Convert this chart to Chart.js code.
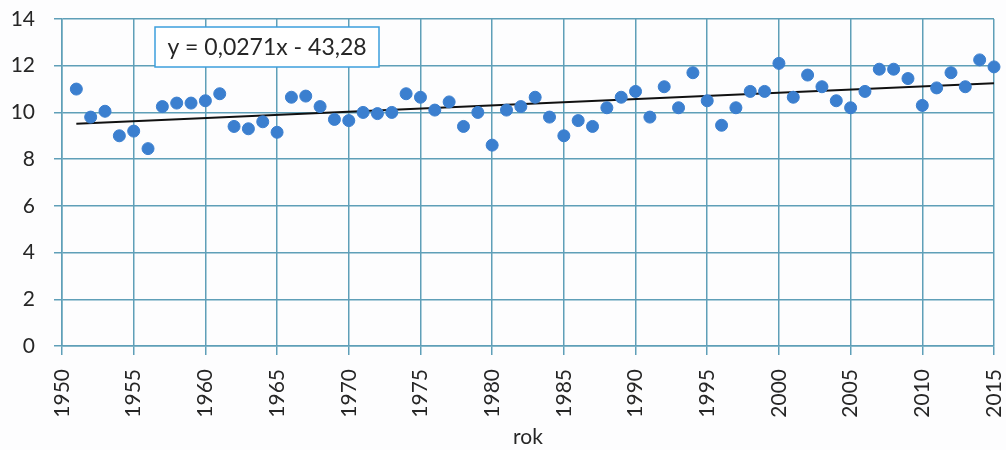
<!DOCTYPE html>
<html lang="pl">
<head>
  <meta charset="UTF-8">
  <title>Temperatura - trend</title>
  <script src="https://cdn.jsdelivr.net/npm/chart.js"></script>
  <style>
    body, html {
      margin: 0;
      padding: 0;
      background: #fdfdfe;
    }
    .wrap {
      width: 1006px;
      height: 450px;
    }
  </style>
</head>
<body>
  <div class="wrap"><canvas id="chart"></canvas></div>

  <script>
    const years = [
      1951, 1952, 1953, 1954, 1955, 1956, 1957, 1958, 1959, 1960,
      1961, 1962, 1963, 1964, 1965, 1966, 1967, 1968, 1969, 1970,
      1971, 1972, 1973, 1974, 1975, 1976, 1977, 1978, 1979, 1980,
      1981, 1982, 1983, 1984, 1985, 1986, 1987, 1988, 1989, 1990,
      1991, 1992, 1993, 1994, 1995, 1996, 1997, 1998, 1999, 2000,
      2001, 2002, 2003, 2004, 2005, 2006, 2007, 2008, 2009, 2010,
      2011, 2012, 2013, 2014, 2015
    ];
    const temps = [
      11.0, 9.8, 10.05, 9.0, 9.2, 8.45, 10.25, 10.4, 10.4, 10.5,
      10.8, 9.4, 9.3, 9.6, 9.15, 10.65, 10.7, 10.25, 9.7, 9.65,
      10.0, 9.95, 10.0, 10.8, 10.65, 10.1, 10.45, 9.4, 10.0, 8.6,
      10.1, 10.25, 10.65, 9.8, 9.0, 9.65, 9.4, 10.2, 10.65, 10.9,
      9.8, 11.1, 10.2, 11.7, 10.5, 9.45, 10.2, 10.9, 10.9, 12.1,
      10.65, 11.6, 11.1, 10.5, 10.2, 10.9, 11.85, 11.85, 11.45, 10.3,
      11.05, 11.7, 11.1, 12.25, 11.95
    ];
    // linia trendu (koniec i początek)
    const trendYears = [1951, 2015];
    const trendValues = [9.52, 11.25];
    const trendLabel = "y = 0,0271x - 43,28";
    const xTitle = "rok";

    const gridColor = "#5f9fb8";
    const textColor = "#262626";
    const font = { family: "Lato, 'Open Sans', sans-serif", size: 21 };

    // ramka z równaniem trendu
    const equationBox = {
      id: "equationBox",
      afterDatasetsDraw(chart) {
        const ctx = chart.ctx;
        const a = chart.chartArea;
        const x = a.left + 93, y = a.top + 8, w = 224, h = 40;
        ctx.save();
        ctx.fillStyle = "#ffffff";
        ctx.fillRect(x, y, w, h);
        ctx.strokeStyle = "#3d9fdd";
        ctx.lineWidth = 1.5;
        ctx.strokeRect(x, y, w, h);
        ctx.fillStyle = textColor;
        ctx.font = "23px Lato, 'Open Sans', sans-serif";
        ctx.textAlign = "center";
        ctx.textBaseline = "middle";
        ctx.fillText(trendLabel, x + w / 2, y + h / 2 + 1);
        ctx.restore();
      }
    };

    new Chart(document.getElementById("chart"), {
      type: "scatter",
      data: {
        datasets: [
          {
            type: "line",
            data: trendYears.map((yr, i) => ({ x: yr, y: trendValues[i] })),
            borderColor: "#111111",
            borderWidth: 2,
            pointRadius: 0,
            order: 2
          },
          {
            data: years.map((yr, i) => ({ x: yr, y: temps[i] })),
            backgroundColor: "#3b7fcf",
            borderColor: "#3b7fcf",
            pointRadius: 6,
            pointHoverRadius: 6,
            clip: false,
            order: 1
          }
        ]
      },
      options: {
        responsive: true,
        maintainAspectRatio: false,
        animation: false,
        layout: { padding: { top: 19, right: 12, left: 0, bottom: 0 } },
        plugins: {
          legend: { display: false },
          tooltip: { enabled: false }
        },
        scales: {
          x: {
            type: "linear",
            min: 1950,
            max: 2015,
            afterFit(scale) {
              scale.height = 104;
              scale.paddingLeft = 0;
              scale.paddingRight = 0;
            },
            ticks: {
              stepSize: 5,
              color: textColor,
              font: font,
              minRotation: 90,
              maxRotation: 90,
              padding: 14,
              callback: v => String(v)
            },
            grid: { color: gridColor, lineWidth: 1.5, tickLength: 9 },
            border: { color: gridColor, width: 1.5 },
            title: {
              display: true,
              text: xTitle,
              color: textColor,
              font: font,
              padding: { top: 2, bottom: 0 }
            }
          },
          y: {
            min: 0,
            max: 14,
            afterFit(scale) {
              scale.width = 62;
              scale.paddingTop = 0;
              scale.paddingBottom = 0;
            },
            ticks: {
              stepSize: 2,
              color: textColor,
              font: font,
              padding: 19
            },
            grid: { color: gridColor, lineWidth: 1.5, tickLength: 8 },
            border: { color: gridColor, width: 1.5 }
          }
        }
      },
      plugins: [equationBox]
    });
  </script>
</body>
</html>
